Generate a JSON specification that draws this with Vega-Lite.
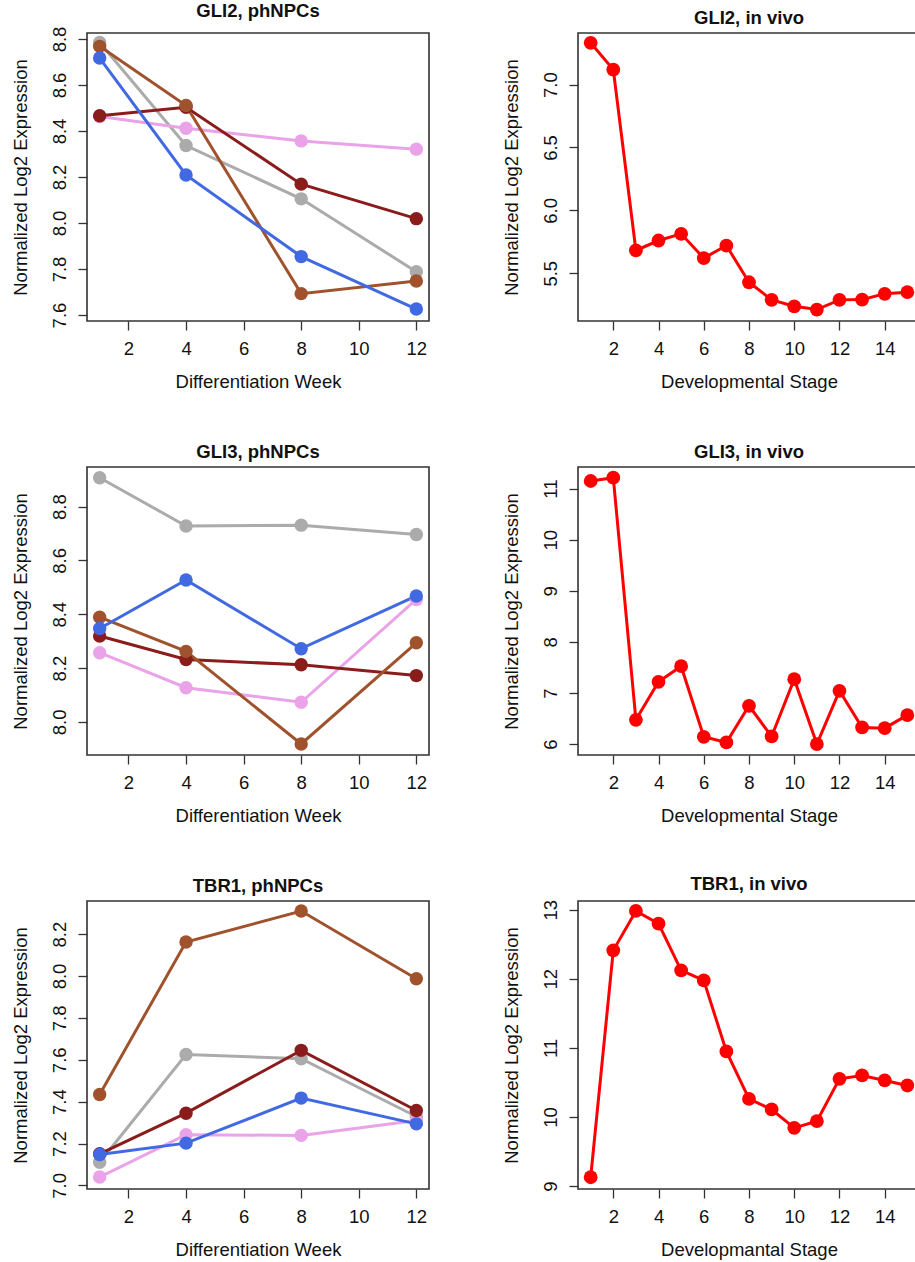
{
  "$schema": "https://vega.github.io/schema/vega-lite/v6.json",
  "padding": {"left": 10, "top": 1, "right": 0, "bottom": 0},
  "background": "white",
  "config": {
    "font": "Liberation Sans",
    "view": {"stroke": "#333333", "strokeWidth": 1.6},
    "axis": {
      "domain": false, "grid": false,
      "tickColor": "#333333", "tickWidth": 1.3, "tickSize": 9,
      "labelFont": "Liberation Sans", "labelFontSize": 18.5, "labelColor": "#111111",
      "titleFont": "Liberation Sans", "titleFontSize": 18.5, "titleFontWeight": "normal", "titleColor": "#111111"
    },
    "axisX": {"labelPadding": 9, "titleY": 51.5},
    "axisY": {"labelAngle": -90, "labelPadding": 9, "titleX": -57},
    "title": {"font": "Liberation Sans", "fontSize": 18.5, "fontWeight": "bold", "color": "#111111", "offset": 5.5}
  },
  "datasets": {
    "np": [
      {"gene": "GLI2", "series": "s1", "week": 1, "value": 8.785},
      {"gene": "GLI2", "series": "s1", "week": 4, "value": 8.337},
      {"gene": "GLI2", "series": "s1", "week": 8, "value": 8.105},
      {"gene": "GLI2", "series": "s1", "week": 12, "value": 7.788},
      {"gene": "GLI2", "series": "s2", "week": 1, "value": 8.463},
      {"gene": "GLI2", "series": "s2", "week": 4, "value": 8.412},
      {"gene": "GLI2", "series": "s2", "week": 8, "value": 8.357},
      {"gene": "GLI2", "series": "s2", "week": 12, "value": 8.321},
      {"gene": "GLI2", "series": "s3", "week": 1, "value": 8.466},
      {"gene": "GLI2", "series": "s3", "week": 4, "value": 8.503},
      {"gene": "GLI2", "series": "s3", "week": 8, "value": 8.169},
      {"gene": "GLI2", "series": "s3", "week": 12, "value": 8.019},
      {"gene": "GLI2", "series": "s4", "week": 1, "value": 8.768},
      {"gene": "GLI2", "series": "s4", "week": 4, "value": 8.511},
      {"gene": "GLI2", "series": "s4", "week": 8, "value": 7.693},
      {"gene": "GLI2", "series": "s4", "week": 12, "value": 7.748},
      {"gene": "GLI2", "series": "s5", "week": 1, "value": 8.717},
      {"gene": "GLI2", "series": "s5", "week": 4, "value": 8.209},
      {"gene": "GLI2", "series": "s5", "week": 8, "value": 7.854},
      {"gene": "GLI2", "series": "s5", "week": 12, "value": 7.626},
      {"gene": "GLI3", "series": "s1", "week": 1, "value": 8.907},
      {"gene": "GLI3", "series": "s1", "week": 4, "value": 8.728},
      {"gene": "GLI3", "series": "s1", "week": 8, "value": 8.731},
      {"gene": "GLI3", "series": "s1", "week": 12, "value": 8.696},
      {"gene": "GLI3", "series": "s2", "week": 1, "value": 8.257},
      {"gene": "GLI3", "series": "s2", "week": 4, "value": 8.127},
      {"gene": "GLI3", "series": "s2", "week": 8, "value": 8.073},
      {"gene": "GLI3", "series": "s2", "week": 12, "value": 8.455},
      {"gene": "GLI3", "series": "s3", "week": 1, "value": 8.319},
      {"gene": "GLI3", "series": "s3", "week": 4, "value": 8.232},
      {"gene": "GLI3", "series": "s3", "week": 8, "value": 8.212},
      {"gene": "GLI3", "series": "s3", "week": 12, "value": 8.172},
      {"gene": "GLI3", "series": "s4", "week": 1, "value": 8.389},
      {"gene": "GLI3", "series": "s4", "week": 4, "value": 8.262},
      {"gene": "GLI3", "series": "s4", "week": 8, "value": 7.918},
      {"gene": "GLI3", "series": "s4", "week": 12, "value": 8.294},
      {"gene": "GLI3", "series": "s5", "week": 1, "value": 8.347},
      {"gene": "GLI3", "series": "s5", "week": 4, "value": 8.527},
      {"gene": "GLI3", "series": "s5", "week": 8, "value": 8.272},
      {"gene": "GLI3", "series": "s5", "week": 12, "value": 8.468},
      {"gene": "TBR1", "series": "s1", "week": 1, "value": 7.111},
      {"gene": "TBR1", "series": "s1", "week": 4, "value": 7.625},
      {"gene": "TBR1", "series": "s1", "week": 8, "value": 7.605},
      {"gene": "TBR1", "series": "s1", "week": 12, "value": 7.329},
      {"gene": "TBR1", "series": "s2", "week": 1, "value": 7.04},
      {"gene": "TBR1", "series": "s2", "week": 4, "value": 7.242},
      {"gene": "TBR1", "series": "s2", "week": 8, "value": 7.239},
      {"gene": "TBR1", "series": "s2", "week": 12, "value": 7.31},
      {"gene": "TBR1", "series": "s3", "week": 1, "value": 7.151},
      {"gene": "TBR1", "series": "s3", "week": 4, "value": 7.345},
      {"gene": "TBR1", "series": "s3", "week": 8, "value": 7.645},
      {"gene": "TBR1", "series": "s3", "week": 12, "value": 7.358},
      {"gene": "TBR1", "series": "s4", "week": 1, "value": 7.434},
      {"gene": "TBR1", "series": "s4", "week": 4, "value": 8.162},
      {"gene": "TBR1", "series": "s4", "week": 8, "value": 8.31},
      {"gene": "TBR1", "series": "s4", "week": 12, "value": 7.987},
      {"gene": "TBR1", "series": "s5", "week": 1, "value": 7.148},
      {"gene": "TBR1", "series": "s5", "week": 4, "value": 7.202},
      {"gene": "TBR1", "series": "s5", "week": 8, "value": 7.417},
      {"gene": "TBR1", "series": "s5", "week": 12, "value": 7.294}
    ],
    "iv": [
      {"gene": "GLI2", "stage": 1, "value": 7.332},
      {"gene": "GLI2", "stage": 2, "value": 7.119},
      {"gene": "GLI2", "stage": 3, "value": 5.681},
      {"gene": "GLI2", "stage": 4, "value": 5.76},
      {"gene": "GLI2", "stage": 5, "value": 5.813},
      {"gene": "GLI2", "stage": 6, "value": 5.62},
      {"gene": "GLI2", "stage": 7, "value": 5.72},
      {"gene": "GLI2", "stage": 8, "value": 5.428},
      {"gene": "GLI2", "stage": 9, "value": 5.288},
      {"gene": "GLI2", "stage": 10, "value": 5.237},
      {"gene": "GLI2", "stage": 11, "value": 5.211},
      {"gene": "GLI2", "stage": 12, "value": 5.288},
      {"gene": "GLI2", "stage": 13, "value": 5.29},
      {"gene": "GLI2", "stage": 14, "value": 5.336},
      {"gene": "GLI2", "stage": 15, "value": 5.349},
      {"gene": "GLI3", "stage": 1, "value": 11.15},
      {"gene": "GLI3", "stage": 2, "value": 11.215},
      {"gene": "GLI3", "stage": 3, "value": 6.476},
      {"gene": "GLI3", "stage": 4, "value": 7.219},
      {"gene": "GLI3", "stage": 5, "value": 7.525},
      {"gene": "GLI3", "stage": 6, "value": 6.143},
      {"gene": "GLI3", "stage": 7, "value": 6.033},
      {"gene": "GLI3", "stage": 8, "value": 6.75},
      {"gene": "GLI3", "stage": 9, "value": 6.15},
      {"gene": "GLI3", "stage": 10, "value": 7.271},
      {"gene": "GLI3", "stage": 11, "value": 6.0},
      {"gene": "GLI3", "stage": 12, "value": 7.043},
      {"gene": "GLI3", "stage": 13, "value": 6.326},
      {"gene": "GLI3", "stage": 14, "value": 6.313},
      {"gene": "GLI3", "stage": 15, "value": 6.567},
      {"gene": "TBR1", "stage": 1, "value": 9.13},
      {"gene": "TBR1", "stage": 2, "value": 12.411},
      {"gene": "TBR1", "stage": 3, "value": 12.981},
      {"gene": "TBR1", "stage": 4, "value": 12.797},
      {"gene": "TBR1", "stage": 5, "value": 12.122},
      {"gene": "TBR1", "stage": 6, "value": 11.977},
      {"gene": "TBR1", "stage": 7, "value": 10.949},
      {"gene": "TBR1", "stage": 8, "value": 10.263},
      {"gene": "TBR1", "stage": 9, "value": 10.11},
      {"gene": "TBR1", "stage": 10, "value": 9.844},
      {"gene": "TBR1", "stage": 11, "value": 9.941},
      {"gene": "TBR1", "stage": 12, "value": 10.554},
      {"gene": "TBR1", "stage": 13, "value": 10.602},
      {"gene": "TBR1", "stage": 14, "value": 10.53},
      {"gene": "TBR1", "stage": 15, "value": 10.457}
    ]
  },
  "columns": 2,
  "spacing": {"row": 146, "column": 149},
  "bounds": "flush",
  "concat": [
    {
      "width": 342, "height": 288,
      "title": {"text": "GLI2, phNPCs"},
      "data": {"name": "np"},
      "transform": [{"filter": "datum.gene === 'GLI2'"}],
      "encoding": {
        "x": {"field": "week", "type": "quantitative", "scale": {"domain": [0.56, 12.44], "nice": false, "zero": false}, "axis": {"values": [2, 4, 6, 8, 10, 12], "title": "Differentiation Week"}},
        "y": {"field": "value", "type": "quantitative", "scale": {"domain": [7.574, 8.826], "nice": false, "zero": false}, "axis": {"values": [7.6, 7.8, 8.0, 8.2, 8.4, 8.6, 8.8], "format": ".1f", "title": "Normalized Log2 Expression"}},
        "color": {"field": "series", "type": "nominal", "scale": {"domain": ["s1", "s2", "s3", "s4", "s5"], "range": ["#ababab", "#eaa2e8", "#8b1c1c", "#a0522d", "#4169e1"]}, "legend": null}
      },
      "layer": [
        {"mark": {"type": "line", "strokeWidth": 3}},
        {"mark": {"type": "point", "filled": true, "size": 180, "opacity": 1}}
      ]
    },
    {
      "width": 342, "height": 288,
      "title": {"text": "GLI2, in vivo"},
      "data": {"name": "iv"},
      "transform": [{"filter": "datum.gene === 'GLI2'"}],
      "encoding": {
        "x": {"field": "stage", "type": "quantitative", "scale": {"domain": [0.44, 15.56], "nice": false, "zero": false}, "axis": {"values": [2, 4, 6, 8, 10, 12, 14], "title": "Developmental Stage"}},
        "y": {"field": "value", "type": "quantitative", "scale": {"domain": [5.12, 7.41], "nice": false, "zero": false}, "axis": {"values": [5.5, 6.0, 6.5, 7.0], "format": ".1f", "title": "Normalized Log2 Expression"}}
      },
      "layer": [
        {"mark": {"type": "line", "strokeWidth": 3, "color": "#ff0000"}},
        {"mark": {"type": "point", "filled": true, "size": 190, "opacity": 1, "color": "#ff0000"}}
      ]
    },
    {
      "width": 342, "height": 288,
      "title": {"text": "GLI3, phNPCs"},
      "data": {"name": "np"},
      "transform": [{"filter": "datum.gene === 'GLI3'"}],
      "encoding": {
        "x": {"field": "week", "type": "quantitative", "scale": {"domain": [0.56, 12.44], "nice": false, "zero": false}, "axis": {"values": [2, 4, 6, 8, 10, 12], "title": "Differentiation Week"}},
        "y": {"field": "value", "type": "quantitative", "scale": {"domain": [7.877, 8.947], "nice": false, "zero": false}, "axis": {"values": [8.0, 8.2, 8.4, 8.6, 8.8], "format": ".1f", "title": "Normalized Log2 Expression"}},
        "color": {"field": "series", "type": "nominal", "scale": {"domain": ["s1", "s2", "s3", "s4", "s5"], "range": ["#ababab", "#eaa2e8", "#8b1c1c", "#a0522d", "#4169e1"]}, "legend": null}
      },
      "layer": [
        {"mark": {"type": "line", "strokeWidth": 3}},
        {"mark": {"type": "point", "filled": true, "size": 180, "opacity": 1}}
      ]
    },
    {
      "width": 342, "height": 288,
      "title": {"text": "GLI3, in vivo"},
      "data": {"name": "iv"},
      "transform": [{"filter": "datum.gene === 'GLI3'"}],
      "encoding": {
        "x": {"field": "stage", "type": "quantitative", "scale": {"domain": [0.44, 15.56], "nice": false, "zero": false}, "axis": {"values": [2, 4, 6, 8, 10, 12, 14], "title": "Developmental Stage"}},
        "y": {"field": "value", "type": "quantitative", "scale": {"domain": [5.787, 11.424], "nice": false, "zero": false}, "axis": {"values": [6, 7, 8, 9, 10, 11], "format": "d", "title": "Normalized Log2 Expression"}}
      },
      "layer": [
        {"mark": {"type": "line", "strokeWidth": 3, "color": "#ff0000"}},
        {"mark": {"type": "point", "filled": true, "size": 190, "opacity": 1, "color": "#ff0000"}}
      ]
    },
    {
      "width": 342, "height": 288,
      "title": {"text": "TBR1, phNPCs"},
      "data": {"name": "np"},
      "transform": [{"filter": "datum.gene === 'TBR1'"}],
      "encoding": {
        "x": {"field": "week", "type": "quantitative", "scale": {"domain": [0.56, 12.44], "nice": false, "zero": false}, "axis": {"values": [2, 4, 6, 8, 10, 12], "title": "Differentiation Week"}},
        "y": {"field": "value", "type": "quantitative", "scale": {"domain": [6.983, 8.358], "nice": false, "zero": false}, "axis": {"values": [7.0, 7.2, 7.4, 7.6, 7.8, 8.0, 8.2], "format": ".1f", "title": "Normalized Log2 Expression"}},
        "color": {"field": "series", "type": "nominal", "scale": {"domain": ["s1", "s2", "s3", "s4", "s5"], "range": ["#ababab", "#eaa2e8", "#8b1c1c", "#a0522d", "#4169e1"]}, "legend": null}
      },
      "layer": [
        {"mark": {"type": "line", "strokeWidth": 3}},
        {"mark": {"type": "point", "filled": true, "size": 180, "opacity": 1}}
      ]
    },
    {
      "width": 342, "height": 288,
      "title": {"text": "TBR1, in vivo"},
      "data": {"name": "iv"},
      "transform": [{"filter": "datum.gene === 'TBR1'"}],
      "encoding": {
        "x": {"field": "stage", "type": "quantitative", "scale": {"domain": [0.44, 15.56], "nice": false, "zero": false}, "axis": {"values": [2, 4, 6, 8, 10, 12, 14], "title": "Developmantal Stage"}},
        "y": {"field": "value", "type": "quantitative", "scale": {"domain": [8.96, 13.125], "nice": false, "zero": false}, "axis": {"values": [9, 10, 11, 12, 13], "format": "d", "title": "Normalized Log2 Expression"}}
      },
      "layer": [
        {"mark": {"type": "line", "strokeWidth": 3, "color": "#ff0000"}},
        {"mark": {"type": "point", "filled": true, "size": 190, "opacity": 1, "color": "#ff0000"}}
      ]
    }
  ]
}
